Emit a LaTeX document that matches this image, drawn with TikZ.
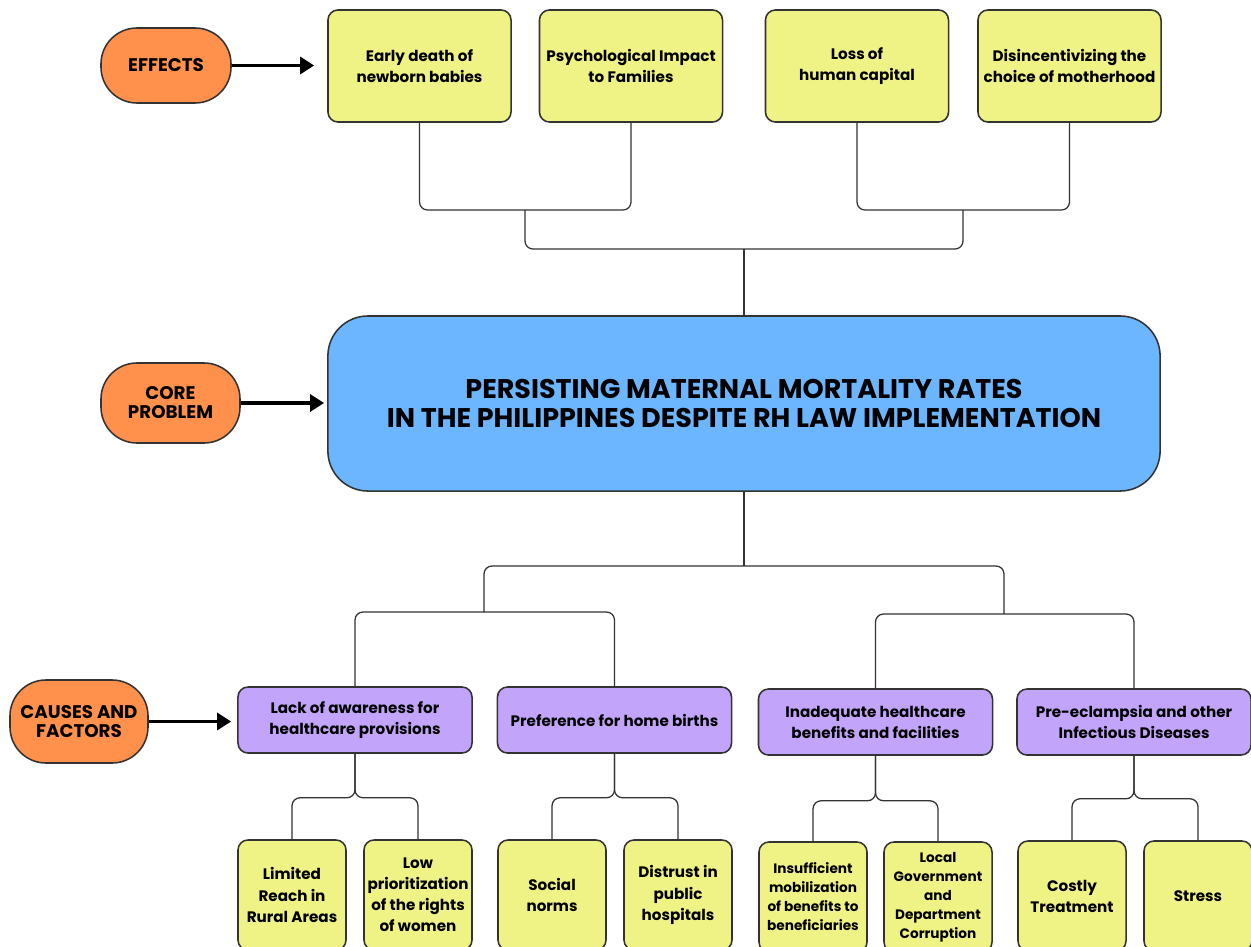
\documentclass[tikz,border=0pt]{standalone}
\usepackage{fontspec}
\setmainfont{Poppins}
\usetikzlibrary{arrows.meta,positioning}
\definecolor{effyellow}{HTML}{EFF385}
\definecolor{causepurple}{HTML}{C2A5FB}
\definecolor{coreblue}{HTML}{6CB6FF}
\definecolor{tagorange}{HTML}{FF914D}
\definecolor{linegray}{HTML}{333333}
\tikzset{
  box/.style={draw=linegray, line width=1.1pt, rounded corners=0.25cm, align=center,
    font=\bfseries\fontsize{10.8}{15}\selectfont, inner sep=2pt},
  effect/.style={box, fill=effyellow, minimum width=4.575cm, minimum height=2.8cm},
  cause/.style={box, fill=causepurple, minimum width=5.85cm, minimum height=1.65cm},
  factor/.style={box, fill=effyellow, minimum width=2.7cm, minimum height=2.75cm},
  tag/.style={draw=linegray, fill=tagorange, rounded corners=0.9cm, line width=1.1pt,
    align=center, font=\bfseries\fontsize{13}{13.5}\selectfont},
  link/.style={draw=linegray, line width=0.9pt, rounded corners=0.2cm},
  pointer/.style={line width=2.7pt, -{Triangle[length=0.35cm,width=0.42cm]}}
}
\begin{document}
\begin{tikzpicture}[x=0.025cm,y=-0.025cm]
\useasboundingbox[fill=white] (0,0) rectangle (1251,947);
% effects
\node[effect] (e1) at (419.5,66) {Early death of\\newborn babies};
\node[effect] (e2) at (631,66) {Psychological Impact\\to Families};
\node[effect] (e3) at (857,66) {Loss of\\human capital};
\node[effect] (e4) at (1069.5,66) {Disincentivizing the\\choice of motherhood};
% core problem
\node[draw=linegray, fill=coreblue, line width=1.1pt, rounded corners=1cm,
  minimum width=20.8cm, minimum height=4.375cm, align=center,
  font=\bfseries\fontsize{19.2}{20}\selectfont] (core) at (744,403.5)
  {PERSISTING MATERNAL MORTALITY RATES\\IN THE PHILIPPINES DESPITE RH LAW IMPLEMENTATION};
% causes
\node[cause] (p1) at (355,720) {Lack of awareness for\\healthcare provisions};
\node[cause] (p2) at (614.5,720) {Preference for home births};
\node[cause] (p3) at (875.5,722) {Inadequate healthcare\\benefits and facilities};
\node[cause] (p4) at (1134,722) {Pre-eclampsia and other\\Infectious Diseases};
% factors
\node[factor] (f1) at (292,895) {Limited\\Reach in\\Rural Areas};
\node[factor] (f2) at (418,895) {Low\\prioritization\\of the rights\\of women};
\node[factor] (f3) at (552,895) {Social\\norms};
\node[factor] (f4) at (678,895) {Distrust in\\public\\hospitals};
\node[factor, font=\bfseries\fontsize{9.7}{13.5}\selectfont] (f5) at (813,897) {Insufficient\\mobilization\\of benefits to\\beneficiaries};
\node[factor, font=\bfseries\fontsize{9.7}{13.5}\selectfont] (f6) at (938,897) {Local\\Government\\and\\Department\\Corruption};
\node[factor] (f7) at (1072,896) {Costly\\Treatment};
\node[factor] (f8) at (1198,896) {Stress};
% tags
\node[tag, minimum width=3.25cm, minimum height=1.875cm] (tagEff) at (166,65.5) {EFFECTS};
\node[tag, minimum width=3.475cm, minimum height=2cm] (tagCore) at (170.5,403) {CORE\\PROBLEM};
\node[tag, minimum width=3.45cm, minimum height=2.075cm] (tagCause) at (79,721.5) {CAUSES AND\\FACTORS};
\draw[pointer] (tagEff.east) -- ([xshift=-13*0.025cm]tagEff.east -| e1.west);
\draw[pointer] (tagCore.east) -- ([xshift=-3*0.025cm]tagCore.east -| core.west);
\draw[pointer] (tagCause.east) -- ([xshift=-6*0.025cm]tagCause.east -| p1.west);
% effect tree
\coordinate (j12) at (525,210);
\coordinate (j34) at (963,210);
\coordinate (jeff) at (744,249);
\draw[link] (e1.south) |- (j12) -| (e2.south);
\draw[link] (e3.south) |- (j34) -| (e4.south);
\draw[link] (j12) |- (jeff) -| (j34);
\draw[link] (jeff) -- (core.north);
% cause tree
\coordinate (jc) at (744,566);
\coordinate (jl) at (484,612);
\coordinate (jr) at (1004,614);
\draw[link] (core.south) -- (jc);
\draw[link] (jl) |- (jc) -| (jr);
\draw[link] (p1.north) |- (jl) -| (p2.north);
\draw[link] (p3.north) |- (jr) -| (p4.north);
% factor braces
\draw[link] (p1.south) -- ++(0,44) -| (f1.north);
\draw[link] (p1.south) -- ++(0,44) -| (f2.north);
\draw[link] (p2.south) -- ++(0,44) -| (f3.north);
\draw[link] (p2.south) -- ++(0,44) -| (f4.north);
\draw[link] (p3.south) -- ++(0,45) -| (f5.north);
\draw[link] (p3.south) -- ++(0,45) -| (f6.north);
\draw[link] (p4.south) -- ++(0,43) -| (f7.north);
\draw[link] (p4.south) -- ++(0,43) -| (f8.north);
\end{tikzpicture}
\end{document}
